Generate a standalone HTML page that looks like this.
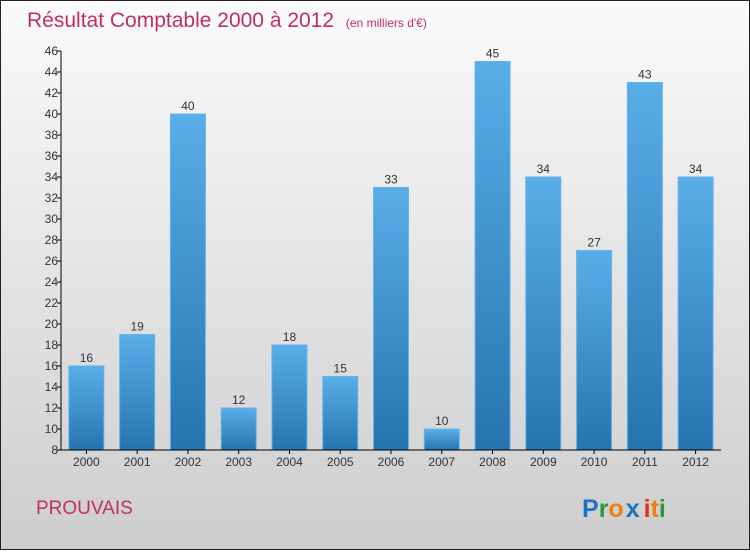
<!DOCTYPE html>
<html><head><meta charset="utf-8"><style>
html,body{margin:0;padding:0}
body{width:750px;height:550px;overflow:hidden;font-family:"Liberation Sans",sans-serif}
</style></head><body>
<svg width="750" height="550" xmlns="http://www.w3.org/2000/svg">
<defs>
<linearGradient id="bg" x1="0" y1="0" x2="0" y2="1"><stop offset="0" stop-color="#fbfbfb"/><stop offset="1" stop-color="#cdcdcd"/></linearGradient>
<linearGradient id="bar" x1="0" y1="0" x2="0" y2="1"><stop offset="0" stop-color="#5aaee8"/><stop offset="1" stop-color="#2574b0"/></linearGradient>
</defs>
<rect x="0.5" y="0.5" width="749" height="549" fill="url(#bg)" stroke="#222"/>
<text x="27" y="27" font-size="21" fill="#c0305e">Résultat Comptable 2000 à 2012 <tspan font-size="12" dx="6">(en milliers d'€)</tspan></text>
<text x="36" y="514" font-size="19" fill="#c0305e">PROUVAIS</text>
<text x="582" y="517" font-size="25" font-weight="bold"><tspan fill="#1a73c4">P</tspan><tspan fill="#2a9a3a">r</tspan><tspan fill="#f07d10">o</tspan><tspan fill="#1a73c4" dx="2">x</tspan><tspan fill="#e03020" dx="4">i</tspan><tspan fill="#f07d10">t</tspan><tspan fill="#2a9a3a">i</tspan></text>
<g id="plot"></g>
</svg>
<script>
const categories=["2000","2001","2002","2003","2004","2005","2006","2007","2008","2009","2010","2011","2012"];
const values=[16,19,40,12,18,15,33,10,45,34,27,43,34];
const yTicks=[8,10,12,14,16,18,20,22,24,26,28,30,32,34,36,38,40,42,44,46];
const NS="http://www.w3.org/2000/svg";
const x0=61,x1=721,yMin=8,yMax=46,yB=450,yT=51;
const y=v=>yB-(v-yMin)/(yMax-yMin)*(yB-yT);
const bw=(x1-x0)/categories.length;
const g=document.getElementById('plot');
function mk(t,a,txt){const e=document.createElementNS(NS,t);for(const k in a)e.setAttribute(k,a[k]);if(txt!=null)e.textContent=txt;g.appendChild(e);return e;}
categories.forEach((c,i)=>{
 const cx=x0+bw*(i+0.5),v=values[i];
 const r=mk('rect',{x:cx-17.5,y:y(v),width:35,height:yB-y(v),fill:'url(#bar)',stroke:'#62b4ee','stroke-width':1});
 
 
 const l=mk('text',{x:cx,y:y(v)-4,'text-anchor':'middle','font-size':12,fill:'#333'},String(v));
 
 
 const t=mk('text',{x:cx,y:466,'text-anchor':'middle','font-size':12,fill:'#333'},c);
 
 
 mk('line',{x1:cx,x2:cx,y1:yB,y2:yB+4,stroke:'#000'});
});
yTicks.forEach(v=>{
 mk('line',{x1:x0-4,x2:x0,y1:y(v),y2:y(v),stroke:'#000'});
 const t=mk('text',{x:x0-3,y:y(v)+4,'text-anchor':'end','font-size':12,fill:'#333'},String(v));
 
 
});
const ya=mk('line',{x1:x0,x2:x0,y1:yT,y2:yB,stroke:'#000'});


const xa=mk('line',{x1:x0,x2:x1,y1:yB,y2:yB,stroke:'#000'});


</script>
</body></html>
